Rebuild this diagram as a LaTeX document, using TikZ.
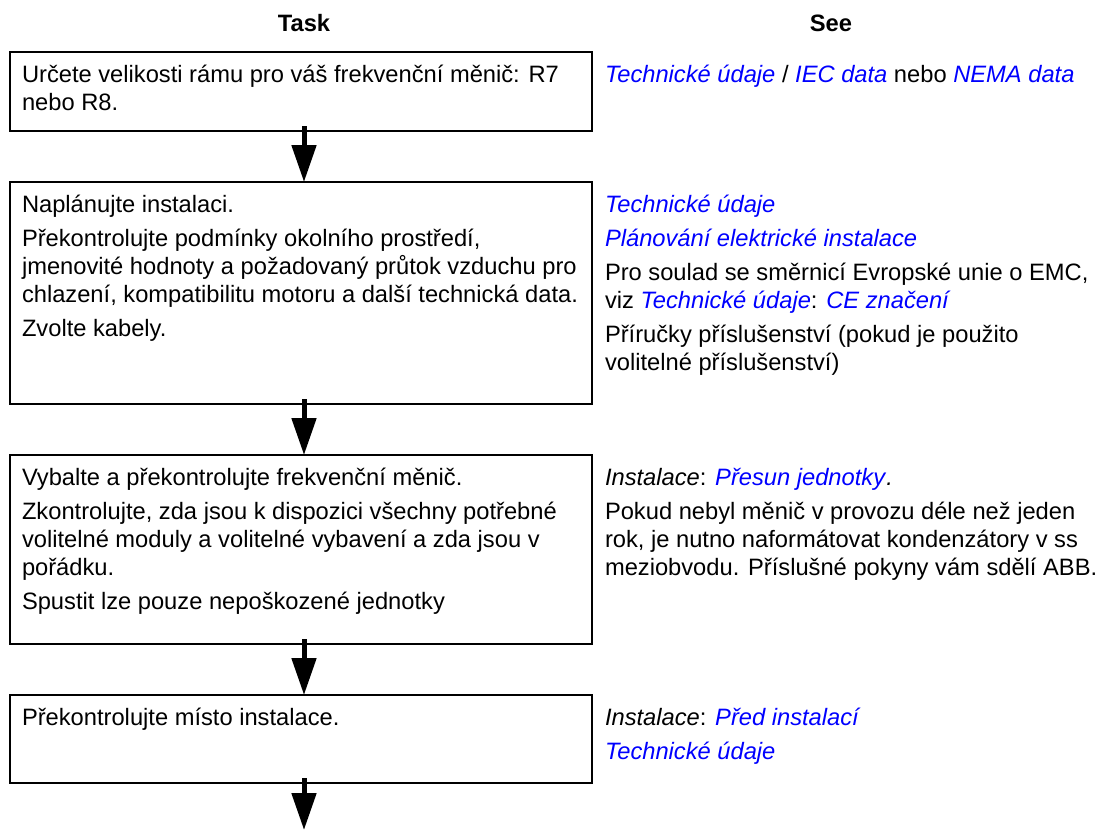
\documentclass[tikz,border=0pt]{standalone}
\usepackage{fontspec}
\setmainfont{Liberation Sans}
\usetikzlibrary{arrows.meta}
\definecolor{linkblue}{RGB}{0,0,255}
\newcommand{\lnk}[1]{\textcolor{linkblue}{\textit{#1}}}
\newcommand{\firstline}{\rule{0pt}{24pt}}
\newcommand{\bodyfont}{\fontsize{23.7}{28}\selectfont}

\begin{document}
\begin{tikzpicture}[x=1pt,y=-1pt,
  every node/.style={inner sep=0pt, outer sep=0pt},
  body/.style={font=\bodyfont, anchor=north west, align=left},
  head/.style={font=\bodyfont\bfseries, anchor=base},
  box/.style={draw, line width=2pt, anchor=north west, minimum width=582pt},
  flow/.style={line width=5pt, -{Triangle[length=37pt,width=24pt]}}]
\useasboundingbox (0,0) rectangle (1099,830);

% column headings
\node[head] (hTask) at (304,31) {Task};
\node[head] (hSee) at (831,31) {See};

% task boxes
\node[box, minimum height=79pt]  (b1) at (10,52)  {};
\node[box, minimum height=222pt] (b2) at (10,182) {};
\node[box, minimum height=189pt] (b3) at (10,455) {};
\node[box, minimum height=88pt]  (b4) at (10,695) {};

% flow arrows
\draw[flow] ([shift={(3pt,5pt)}]b1.south) -- ([xshift=3pt]b2.north);
\draw[flow] ([shift={(3pt,5pt)}]b2.south) -- ([xshift=3pt]b3.north);
\draw[flow] ([shift={(3pt,5pt)}]b3.south) -- ([xshift=3pt]b4.north);
\coordinate (out) at ([shift={(3pt,-47pt)}]b4.south);
\draw[flow] ([shift={(3pt,5pt)}]b4.south) -- (out);

% task texts
\node[body] (t1) at (22,58) {\firstline Určete velikosti rámu pro váš frekvenční měnič: R7\\nebo R8.};
\node[body] (t2) at (22,188) {\firstline Naplánujte instalaci.\\[6pt]
  Překontrolujte podmínky okolního prostředí,\\
  jmenovité hodnoty a požadovaný průtok vzduchu pro\\
  chlazení, kompatibilitu motoru a další technická data.\\[6pt]
  Zvolte kabely.};
\node[body] (t3) at (22,461) {\firstline Vybalte a překontrolujte frekvenční měnič.\\[6pt]
  Zkontrolujte, zda jsou k dispozici všechny potřebné\\
  volitelné moduly a volitelné vybavení a zda jsou v\\
  pořádku.\\[6pt]
  Spustit lze pouze nepoškozené jednotky};
\node[body] (t4) at (22,701) {\firstline Překontrolujte místo instalace.};

% references
\node[body] (s1) at (605,58) {\firstline\lnk{Technické údaje} / \lnk{IEC data} nebo \lnk{NEMA data}};
\node[body] (s2) at (605,188) {\firstline\lnk{Technické údaje}\\[6pt]
  \lnk{Plánování elektrické instalace}\\[6pt]
  Pro soulad se směrnicí Evropské unie o EMC,\\
  viz \lnk{Technické údaje}: \lnk{CE značení}\\[6pt]
  Příručky příslušenství (pokud je použito\\
  volitelné příslušenství)};
\node[body] (s3) at (605,461) {\firstline\textit{Instalace}: \lnk{Přesun jednotky}\textit{.}\\[6pt]
  Pokud nebyl měnič v provozu déle než jeden\\
  rok, je nutno naformátovat kondenzátory v ss\\
  meziobvodu. Příslušné pokyny vám sdělí ABB.};
\node[body] (s4) at (605,701) {\firstline\textit{Instalace}: \lnk{Před instalací}\\[6pt]
  \lnk{Technické údaje}};
\end{tikzpicture}
\end{document}
